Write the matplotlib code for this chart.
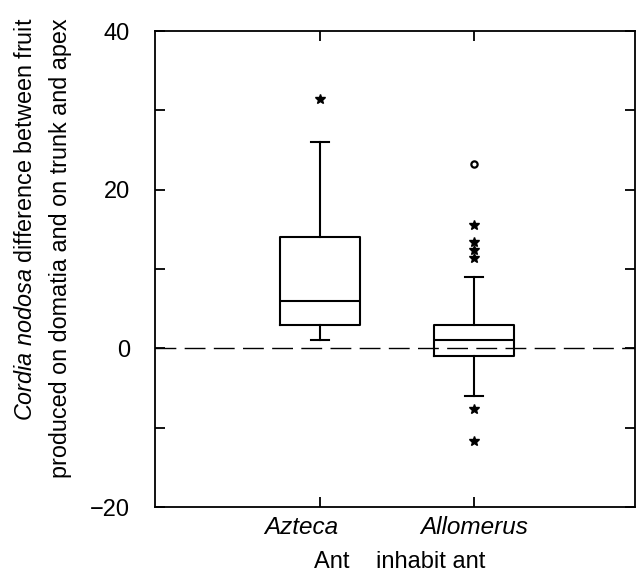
import numpy as np
import matplotlib
matplotlib.use("Agg")
import matplotlib.pyplot as plt
import matplotlib.transforms as mtransforms

plt.rcParams['font.family'] = ['Liberation Sans', 'DejaVu Sans']
plt.rcParams['mathtext.fontset'] = 'custom'
plt.rcParams['mathtext.rm'] = 'Liberation Sans'
plt.rcParams['mathtext.it'] = 'Liberation Sans:italic'

# --- Data ---
categories = ['Azteca', 'Allomerus']
whislo = [1.0, -6.0]
q1 = [3.0, -1.0]
med = [6.0, 1.0]
q3 = [14.0, 3.0]
whishi = [26.0, 9.0]
# outliers drawn as stars, far outliers as open circles
star_azteca = [31.4]
star_allomerus = [15.5, 13.4, 12.4, 11.4, -7.6, -11.7]
circle_allomerus = [23.2]

positions = [1, 2]
label_shift_px = [-19, 0]   # Azteca label sits a bit left of its tick

fig = plt.figure(figsize=(6.44, 5.83), dpi=100)
ax = fig.add_axes([155 / 644, 76 / 583, 480 / 644, 476 / 583])

stats = []
for i, name in enumerate(categories):
    stats.append(dict(label=name, whislo=whislo[i], q1=q1[i], med=med[i],
                      q3=q3[i], whishi=whishi[i], fliers=[]))

line = dict(color='black', linewidth=1.5)
ax.bxp(stats, positions=positions, widths=0.52, capwidths=0.12,
       showfliers=False, boxprops=line, whiskerprops=line,
       capprops=line, medianprops=line, manage_ticks=False)

# zero reference line
ax.axhline(0, color='black', linewidth=1.0, dashes=(15, 6), zorder=1)

# outliers
ax.plot([positions[0]] * len(star_azteca), star_azteca, '*', color='black',
        markersize=7, linestyle='none')
ax.plot([positions[1]] * len(star_allomerus), star_allomerus, '*',
        color='black', markersize=7, linestyle='none')
ax.plot([positions[1]] * len(circle_allomerus), circle_allomerus, 'o',
        markerfacecolor='white', markeredgecolor='black', markersize=4.5,
        markeredgewidth=1.6, linestyle='none')

ax.set_xlim(1 - 165 / 154, 2 + 161 / 154)
ax.set_ylim(-20, 40)

ax.set_yticks([-20, 0, 20, 40])
ax.set_yticks([-10, 10, 30], minor=True)
ax.set_xticks(positions)
ax.set_xticklabels([])
ax.tick_params(axis='y', which='both', direction='in', length=7, width=1.3,
               right=True, labelsize=17, pad=18)
ax.tick_params(axis='x', which='both', direction='in', length=7, width=1.3,
               top=True)
for sp in ax.spines.values():
    sp.set_linewidth(1.3)

# category labels under the axis
trans = mtransforms.blended_transform_factory(ax.transData, fig.transFigure)
for pos, name, dx in zip(positions, categories, label_shift_px):
    off = mtransforms.ScaledTranslation(dx / 100, 0, fig.dpi_scale_trans)
    ax.text(pos, 1 - 527 / 583, name, transform=trans + off, fontsize=17.5,
            style='italic', ha='center', va='center')

fig.text(400 / 644, 1 - 562 / 583, 'Ant    inhabit ant', fontsize=17,
         ha='center', va='center')

fig.text(14 / 644, 1 - 18 / 583,
         r'$\it{Cordia\ nodosa}$ difference between fruit',
         rotation=90, fontsize=16.8, ha='left', va='top')
fig.text(49 / 644, 1 - 18 / 583,
         'produced on domatia and on trunk and apex',
         rotation=90, fontsize=16.8, ha='left', va='top')

fig.savefig('out.png', dpi=100)
